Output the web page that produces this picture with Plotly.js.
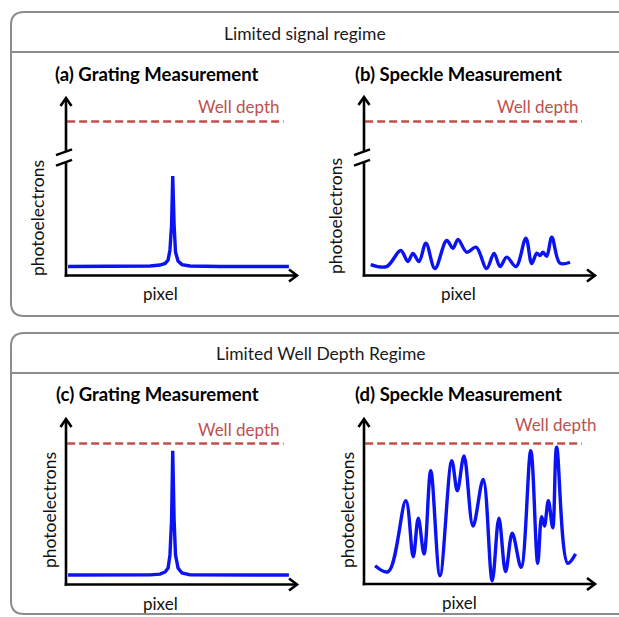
<!DOCTYPE html>
<html>
<head>
<meta charset="utf-8">
<script src="https://cdn.plot.ly/plotly-3.0.1.min.js"></script>
<style>html,body{margin:0;padding:0;background:#fff;}#chart{width:619px;height:617px;}</style>
</head>
<body>
<div id="chart"></div>
<script>
// ---------------- DATA ----------------
const wellDepth = 1.0;               // well depth level (normalised units)
const regimeTitles = ["Limited signal regime", "Limited Well Depth Regime"];
const panelTitles = ["(a) Grating Measurement", "(b) Speckle Measurement",
                     "(c) Grating Measurement", "(d) Speckle Measurement"];
const wellLabel = "Well depth";
const yLabel = "photoelectrons";
const xLabel = "pixel";

// (a) grating, limited signal
const gratingPixelA  = [0.9, 23.4, 36.4, 40.7, 42.9, 44.2, 45.0, 45.7, 46.2, 46.8, 47.4, 48.5, 50.2, 53.7, 66.7, 96.5];
const gratingSignalA = [0.058, 0.058, 0.062, 0.068, 0.078, 0.10, 0.166, 0.328, 0.646, 0.328, 0.153, 0.094, 0.071, 0.062, 0.058, 0.058];

// (b) speckle, limited signal
const specklePixelB  = [2.9, 9.8, 15.9, 19.0, 21.2, 23.8, 26.8, 30.7, 35.8, 38.5, 40.7, 44.5, 48.5, 53.1, 56.3, 58.9, 61.8, 65.8, 70.1, 72.6, 74.8, 76.2, 77.5, 79.1, 81.3, 84.8, 89.2];
const speckleSignalB = [0.071, 0.058, 0.162, 0.091, 0.143, 0.091, 0.21, 0.045, 0.227, 0.177, 0.234, 0.151, 0.184, 0.045, 0.143, 0.058, 0.119, 0.058, 0.242, 0.078, 0.145, 0.13, 0.151, 0.125, 0.249, 0.08, 0.086];

// (c) grating, limited well depth
const gratingPixelC  = [0.9, 23.4, 36.4, 40.7, 42.9, 44.2, 45.0, 45.7, 46.2, 46.8, 47.4, 48.5, 50.2, 53.7, 66.7, 96.5];
const gratingSignalC = [0.067, 0.067, 0.068, 0.074, 0.089, 0.117, 0.21, 0.457, 0.949, 0.457, 0.21, 0.117, 0.082, 0.068, 0.067, 0.067];

// (d) speckle, limited well depth
const specklePixelD  = [4.8, 10.5, 18.1, 21.3, 23.5, 26.0, 28.9, 32.9, 38.0, 40.4, 43.3, 47.2, 51.6, 55.5, 58.4, 61.3, 64.2, 68.0, 72.2, 75.2, 76.9, 78.1, 79.8, 81.7, 83.4, 88.2, 91.6];
const speckleSignalD = [0.130, 0.088, 0.593, 0.194, 0.468, 0.214, 0.806, 0.059, 0.878, 0.664, 0.911, 0.413, 0.745, 0.023, 0.468, 0.088, 0.361, 0.119, 0.949, 0.147, 0.479, 0.413, 0.593, 0.40, 0.973, 0.147, 0.214];

// ---------------- LAYOUT GEOMETRY (pixels) ----------------
const W = 619, H = 617;
const X = px => px / W;
const Y = py => 1 - py / H;

const panels = [
  {ox: 66,  oy: 275.5, xEnd: 297, yTop: 98,  dashY: 121.5, brk: true,
   title: [157, 74], well: [282, 107], ylab: [37, 218], xlab: [160, 293],
   px: gratingPixelA, py: gratingSignalA, spline: false},
  {ox: 364, oy: 275.5, xEnd: 595, yTop: 97,  dashY: 121.5, brk: true,
   title: [458, 74], well: [581, 107], ylab: [336, 216], xlab: [458, 293],
   px: specklePixelB, py: speckleSignalB, spline: true},
  {ox: 66,  oy: 584.5, xEnd: 297, yTop: 419, dashY: 443.5, brk: false,
   title: [157, 394], well: [282, 429], ylab: [49, 510], xlab: [160, 603],
   px: gratingPixelC, py: gratingSignalC, spline: false},
  {ox: 364, oy: 584, xEnd: 595, yTop: 419, dashY: 443.5, brk: false,
   title: [458, 394], well: [599, 424], ylab: [347, 510], xlab: [459, 602],
   px: specklePixelD, py: speckleSignalD, spline: true}
];
const xSpan = 231;           // pixels covered by x range [0,100]
const dashX = [0.5, 94.3];   // extent of the well-depth line in x units

const FONT = "Lato, 'Open Sans', sans-serif";
const traces = [], shapes = [], annotations = [];
const layout = {
  width: W, height: H, margin: {l: 0, r: 0, t: 0, b: 0},
  paper_bgcolor: "#fff", plot_bgcolor: "rgba(0,0,0,0)",
  showlegend: false, font: {family: FONT}
};

// rounded boxes
function roundedBox(left, top, right, bottom, r) {
  const rx = r / W, ry = r / H;
  const L = X(left), T = Y(top), R = X(right), B = Y(bottom);
  return `M ${L + rx},${T} L ${R},${T} L ${R},${B} L ${L + rx},${B} Q ${L},${B} ${L},${B + ry} L ${L},${T - ry} Q ${L},${T} ${L + rx},${T} Z`;
}
const boxes = [
  {top: 12, sep: 52, bottom: 316, title: 33},
  {top: 333, sep: 373, bottom: 614, title: 354}
];
boxes.forEach((b, i) => {
  shapes.push({type: "path", xref: "paper", yref: "paper",
    path: roundedBox(11, b.top, 660, b.bottom, 13),
    line: {color: "#8c8c8c", width: 2}, fillcolor: "rgba(0,0,0,0)", layer: "below"});
  shapes.push({type: "line", xref: "paper", yref: "paper",
    x0: X(11), x1: X(660), y0: Y(b.sep), y1: Y(b.sep),
    line: {color: "#8c8c8c", width: 2}});
  annotations.push({xref: "paper", yref: "paper", x: X(i === 0 ? 305 : 321), y: Y(b.title),
    text: regimeTitles[i], showarrow: false, xanchor: "center", yanchor: "middle",
    font: {family: FONT, size: 17.5, color: "#1a1a1a"}});
});

function pathLine(pts) {
  return pts.map((p, k) => (k ? "L " : "M ") + X(p[0]) + "," + Y(p[1])).join(" ");
}

panels.forEach((p, i) => {
  const n = i + 1;
  const xa = "xaxis" + (n === 1 ? "" : n), ya = "yaxis" + (n === 1 ? "" : n);
  const xr = "x" + (n === 1 ? "" : n), yr = "y" + (n === 1 ? "" : n);
  const yMax = (p.oy - p.yTop) / (p.oy - p.dashY) * wellDepth;
  layout[xa] = {domain: [X(p.ox), X(p.ox + xSpan)], range: [0, 100], visible: false, fixedrange: true, anchor: yr};
  layout[ya] = {domain: [Y(p.oy), Y(p.yTop)], range: [0, yMax], visible: false, fixedrange: true, anchor: xr};

  // signal curve
  traces.push({type: "scatter", mode: "lines", x: p.px, y: p.py, xaxis: xr, yaxis: yr,
    line: {color: "#0b13f2", width: 3.4, shape: p.spline ? "spline" : "linear", smoothing: 1},
    hoverinfo: "skip"});

  // well depth line
  shapes.push({type: "line", xref: xr, yref: yr, x0: dashX[0], x1: dashX[1], y0: wellDepth, y1: wellDepth,
    line: {color: "#c0504d", width: 2.6, dash: "8px,4px"}});

  // axes with arrows
  const axLine = {color: "#000", width: 2.6};
  shapes.push({type: "path", xref: "paper", yref: "paper",
    path: pathLine([[p.ox - 1.3, p.oy], [p.xEnd - 0.5, p.oy]]), line: axLine});
  shapes.push({type: "path", xref: "paper", yref: "paper",
    path: pathLine([[p.xEnd - 8, p.oy - 6], [p.xEnd, p.oy], [p.xEnd - 8, p.oy + 6]]), line: axLine});
  shapes.push({type: "path", xref: "paper", yref: "paper",
    path: pathLine([[p.ox - 5.5, p.yTop + 8], [p.ox, p.yTop], [p.ox + 5.5, p.yTop + 8]]), line: axLine});
  if (p.brk) {
    const c1 = 151.5, c2 = 162;
    shapes.push({type: "path", xref: "paper", yref: "paper",
      path: pathLine([[p.ox, p.yTop + 0.5], [p.ox, c1]]), line: axLine});
    shapes.push({type: "path", xref: "paper", yref: "paper",
      path: pathLine([[p.ox, c2], [p.ox, p.oy + 1.3]]), line: axLine});
    [c1, c2].forEach(c => shapes.push({type: "path", xref: "paper", yref: "paper",
      path: pathLine([[p.ox - 10, c + 3.6], [p.ox + 6, c - 2.1]]), line: axLine}));
  } else {
    shapes.push({type: "path", xref: "paper", yref: "paper",
      path: pathLine([[p.ox, p.yTop + 0.5], [p.ox, p.oy + 1.3]]), line: axLine});
  }

  // texts
  annotations.push({xref: "paper", yref: "paper", x: X(p.title[0]), y: Y(p.title[1]),
    text: "<b>" + panelTitles[i] + "</b>", showarrow: false, xanchor: "center", yanchor: "middle",
    font: {family: FONT, size: 18.5, color: "#000"}});
  annotations.push({xref: "paper", yref: "paper", x: X(p.well[0]), y: Y(p.well[1]),
    text: wellLabel, showarrow: false, xanchor: "right", yanchor: "middle",
    font: {family: FONT, size: 17, color: "#c0504d"}});
  annotations.push({xref: "paper", yref: "paper", x: X(p.ylab[0]), y: Y(p.ylab[1]),
    text: yLabel, textangle: -90, showarrow: false, xanchor: "center", yanchor: "middle",
    font: {family: FONT, size: 17.5, color: "#111"}});
  annotations.push({xref: "paper", yref: "paper", x: X(p.xlab[0]), y: Y(p.xlab[1]),
    text: xLabel, showarrow: false, xanchor: "center", yanchor: "middle",
    font: {family: FONT, size: 17, color: "#111"}});
});

layout.shapes = shapes;
layout.annotations = annotations;
Plotly.newPlot("chart", traces, layout, {displayModeBar: false, staticPlot: true});
</script>
</body>
</html>
